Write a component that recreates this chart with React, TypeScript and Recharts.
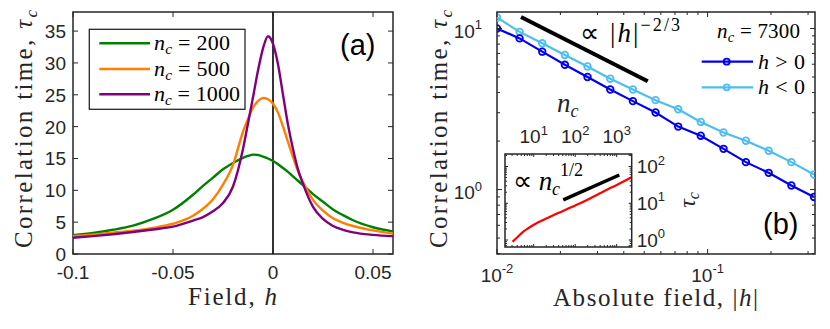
import React from 'react';
import { LineChart, Line, XAxis, YAxis, ReferenceLine, ReferenceArea } from 'recharts';

// ---------- Panel (a) data ----------
const FIELD_H = [-0.1, -0.09, -0.08, -0.07, -0.06, -0.05, -0.04, -0.035, -0.03, -0.025, -0.02, -0.015, -0.0125, -0.01, -0.0075, -0.005, -0.0025, 0, 0.0025, 0.005, 0.0075, 0.01, 0.0125, 0.015, 0.02, 0.025, 0.03, 0.035, 0.04, 0.05, 0.06];
const TAU_NC200 = [2.95, 3.3, 3.8, 4.45, 5.5, 6.95, 9.3, 10.7, 12.0, 13.3, 14.3, 15.1, 15.4, 15.6, 15.55, 15.3, 15.0, 14.6, 14.1, 13.5, 12.9, 12.2, 11.5, 10.8, 9.4, 8.2, 7.0, 6.1, 5.3, 4.2, 3.55];
const TAU_NC500 = [2.8, 3.05, 3.35, 3.65, 4.1, 4.75, 6.0, 7.1, 8.6, 10.9, 14.0, 19.2, 21.2, 23.0, 24.0, 24.5, 24.3, 23.6, 22.2, 20.0, 17.6, 15.2, 13.0, 11.3, 8.5, 6.8, 5.6, 4.9, 4.4, 3.7, 3.2];
const TAU_NC1000 = [2.55, 2.8, 3.1, 3.45, 3.85, 4.3, 5.25, 5.8, 6.7, 8.0, 10.6, 16.5, 20.5, 24.6, 28.8, 32.3, 34.2, 33.0, 29.8, 25.0, 20.3, 16.5, 13.3, 11.0, 7.4, 5.5, 4.4, 3.8, 3.4, 3.0, 2.8];
const NC_LABELS = ['200', '500', '1000'];
const A_COLORS = ['#008000', '#ff8000', '#800080'];
const A_XTICKS = [-0.1, -0.05, 0, 0.05];
const A_YTICKS = [0, 5, 10, 15, 20, 25, 30, 35];

// ---------- Panel (b) data ----------
const ABS_FIELD = [0.01, 0.0128, 0.0164, 0.021, 0.0269, 0.0345, 0.0442, 0.0566, 0.0725, 0.0928, 0.119, 0.152, 0.195, 0.25, 0.32];
const TAU_POS = [10.0, 8.68, 7.18, 5.95, 5.0, 4.18, 3.54, 3.01, 2.46, 2.16, 1.79, 1.48, 1.27, 1.06, 0.9];
const TAU_NEG = [11.7, 9.53, 8.09, 6.85, 5.81, 4.88, 4.18, 3.59, 3.15, 2.63, 2.26, 2.01, 1.74, 1.48, 1.24];
const B_XTICKS = [0.01, 0.02, 0.03, 0.04, 0.05, 0.06, 0.07, 0.08, 0.09, 0.1, 0.2, 0.3];
const B_YTICKS = [0.4, 0.5, 0.6, 0.7, 0.8, 0.9, 1, 2, 3, 4, 5, 6, 7, 8, 9, 10];
const GUIDE_B = [{ x: 0.013, y: 11.8 }, { x: 0.052, y: 4.7 }];

// ---------- Inset data ----------
const INSET_NC = [3.1, 4.2, 5.6, 7.5, 9.8, 15, 24.7, 40, 62.4, 100, 157, 250, 396, 630, 1000, 1500, 2300];
const INSET_TAU = [0.9, 1.25, 1.68, 2.12, 2.56, 3.3, 4.31, 5.51, 6.84, 8.74, 11.0, 14.3, 18.7, 24.4, 31.4, 39.7, 50.8];
const INSET_XTICKS = [3, 4, 5, 6, 7, 8, 9, 10, 20, 30, 40, 50, 60, 70, 80, 90, 100, 200, 300, 400, 500, 600, 700, 800, 900, 1000, 2000];
const INSET_YTICKS = [0.7, 0.8, 0.9, 1, 2, 3, 4, 5, 6, 7, 8, 9, 10, 20, 30, 40, 50, 60, 70, 80, 90, 100, 200];
const GUIDE_INSET = [{ x: 51.6, y: 12.3 }, { x: 1156, y: 58.7 }];

const AX = '#262626';
const SANS = '"Liberation Sans", Arial, Helvetica, sans-serif';
const SERIF = '"Liberation Serif", "Times New Roman", serif';
const DARK_BLUE = '#0000ee';
const LIGHT_BLUE = '#4dbeee';

const isPow10 = (v: number) => Math.abs(Math.log10(v) - Math.round(Math.log10(v))) < 1e-6;

type TickCfg = {
  orient: 'bottom' | 'top' | 'left' | 'right';
  edgeA: number;
  edgeB: number;
  isMajor: (v: number) => boolean;
  render: (v: number, pos: number) => React.ReactNode;
  majorLen: number;
  minorLen: number;
};

const makeTick = (cfg: TickCfg) => (props: any) => {
  const v = props.payload.value;
  const major = cfg.isMajor(v);
  const len = major ? cfg.majorLen : cfg.minorLen;
  const vertical = cfg.orient === 'bottom' || cfg.orient === 'top';
  const pos = vertical ? props.x : props.y;
  const dirA = cfg.orient === 'bottom' || cfg.orient === 'right' ? -1 : 1;
  const dirB = -dirA;
  const sty = { stroke: AX, strokeWidth: 1 };
  return (
    <g>
      {vertical ? (
        <>
          <line x1={pos} x2={pos} y1={cfg.edgeA} y2={cfg.edgeA + dirA * len} {...sty} />
          <line x1={pos} x2={pos} y1={cfg.edgeB} y2={cfg.edgeB + dirB * len} {...sty} />
        </>
      ) : (
        <>
          <line y1={pos} y2={pos} x1={cfg.edgeA} x2={cfg.edgeA + dirA * len} {...sty} />
          <line y1={pos} y2={pos} x1={cfg.edgeB} x2={cfg.edgeB + dirB * len} {...sty} />
        </>
      )}
      {major ? cfg.render(v, pos) : null}
    </g>
  );
};

const pow10Label = (v: number, x: number, y: number, anchor: 'start' | 'middle' | 'end', supDy: number) => (
  <text x={x} y={y} textAnchor={anchor} fontFamily={SANS} fontSize={19} fill={AX}>
    <tspan>10</tspan>
    <tspan fontSize={13} dy={supDy}>{String(Math.round(Math.log10(v)))}</tspan>
  </text>
);

// ---------- Panel (a) ticks ----------
const xTickA = makeTick({
  orient: 'bottom', edgeA: 254, edgeB: 12, isMajor: () => true, majorLen: 5, minorLen: 3,
  render: (v, x) => (
    <text x={x} y={279} textAnchor="middle" fontFamily={SANS} fontSize={19} fill={AX}>{String(v)}</text>
  ),
});
const yTickA = makeTick({
  orient: 'left', edgeA: 73, edgeB: 393, isMajor: () => true, majorLen: 5, minorLen: 3,
  render: (v, y) => (
    <text x={66} y={y + 7} textAnchor="end" fontFamily={SANS} fontSize={19} fill={AX}>{String(v)}</text>
  ),
});

// ---------- Panel (b) ticks ----------
const xTickB = makeTick({
  orient: 'bottom', edgeA: 254, edgeB: 12, isMajor: isPow10, majorLen: 5, minorLen: 3,
  render: (v, x) => pow10Label(v, x, 281.5, 'middle', -8.5),
});
const yTickB = makeTick({
  orient: 'left', edgeA: 82, edgeB: 400, isMajor: isPow10, majorLen: 5, minorLen: 3,
  render: (v, y) => pow10Label(v, 67, y + 9.5, 'end', -8.5),
});

// ---------- Inset ticks (inset chart coords: page left 500, top 80) ----------
const xTickI = makeTick({
  orient: 'top', edgeA: 74, edgeB: 167, isMajor: isPow10, majorLen: 3, minorLen: 2,
  render: (v, x) => pow10Label(v, x, 63, 'middle', -8.5),
});
const yTickI = makeTick({
  orient: 'right', edgeA: 131.7, edgeB: 5, isMajor: isPow10, majorLen: 3, minorLen: 2,
  render: (v, y) => pow10Label(v, 136.7, y + 6.5, 'start', -8.5),
});

const dataA = FIELD_H.map((h, i) => ({ h, n200: TAU_NC200[i], n500: TAU_NC500[i], n1000: TAU_NC1000[i] }));
const dataB = ABS_FIELD.map((h, i) => ({ h, pos: TAU_POS[i], neg: TAU_NEG[i] }));
const dataI = INSET_NC.map((n, i) => ({ n, tau: INSET_TAU[i] }));
const A_KEYS = ['n200', 'n500', 'n1000'];

const NcText = ({ x, y, value, len, size = 22 }: { x: number; y: number; value: string; len: number; size?: number }) => (
  <text x={x} y={y} fontFamily={SERIF} fontSize={size} fill="#000" textLength={len} lengthAdjust="spacing" style={{ whiteSpace: 'pre' }}>
    <tspan fontStyle="italic">n</tspan>
    <tspan fontStyle="italic" fontSize={size * 0.7} dy={4}>c</tspan>
    <tspan dy={-4}>{' = ' + value}</tspan>
  </text>
);

const PanelA = () => (
  <LineChart width={415} height={329} data={dataA} margin={{ top: 12, right: 22, bottom: 0, left: 0 }}>
    <XAxis dataKey="h" type="number" domain={[-0.1, 0.06]} ticks={A_XTICKS} interval={0} height={75}
      axisLine={false} tickLine={false} tick={xTickA} allowDataOverflow />
    <YAxis type="number" domain={[0, 38]} ticks={A_YTICKS} interval={0} width={73}
      axisLine={false} tickLine={false} tick={yTickA} allowDataOverflow />
    <ReferenceArea x1={-0.1} x2={0.06} y1={0} y2={38} fill="none" stroke={AX} strokeWidth={1.5} />
    <ReferenceLine x={0} stroke="#000" strokeWidth={1.6} />
    {A_KEYS.map((k, i) => (
      <Line key={k} dataKey={k} type="monotone" stroke={A_COLORS[i]} strokeWidth={2.4} dot={false} isAnimationActive={false} />
    ))}
    {/* legend */}
    <rect x={89.3} y={29.3} width={155.7} height={80} fill="#fff" stroke={AX} strokeWidth={1.3} />
    {NC_LABELS.map((lab, i) => {
      const y = [43.3, 69, 94.3][i];
      return (
        <g key={lab}>
          <line x1={99.3} x2={150} y1={y} y2={y} stroke={A_COLORS[i]} strokeWidth={2.4} />
          <NcText x={154} y={y + 7} value={lab} len={lab.length === 4 ? 86 : 76} />
        </g>
      );
    })}
    <text x={340} y={55} fontFamily={SANS} fontSize={29} fill="#000">(a)</text>
    <text x={232.5} y={305} textAnchor="middle" fontFamily={SERIF} fontSize={25} fill={AX} textLength={89} lengthAdjust="spacing" style={{ whiteSpace: 'pre' }}>
      <tspan>Field, </tspan><tspan fontStyle="italic">h</tspan>
    </text>
    <text transform="rotate(-90)" x={-129} y={32} textAnchor="middle" fontFamily={SERIF} fontSize={25} fill={AX} textLength={238} lengthAdjust="spacing" style={{ whiteSpace: 'pre' }}>
      <tspan>Correlation time, </tspan><tspan fontStyle="italic">τ</tspan><tspan fontStyle="italic" fontSize={17} dy={5}>c</tspan>
    </text>
  </LineChart>
);

const PanelB = () => (
  <LineChart width={415} height={329} data={dataB} margin={{ top: 12, right: 15, bottom: 0, left: 0 }}>
    <XAxis dataKey="h" type="number" scale="log" domain={[0.01, 0.3236]} ticks={B_XTICKS} interval={0} height={75}
      axisLine={false} tickLine={false} tick={xTickB} allowDataOverflow />
    <YAxis type="number" scale="log" domain={[0.398, 12.66]} ticks={B_YTICKS} interval={0} width={82}
      axisLine={false} tickLine={false} tick={yTickB} allowDataOverflow />
    <ReferenceArea x1={0.01} x2={0.3236} y1={0.398} y2={12.66} fill="none" stroke={AX} strokeWidth={1.5} />
    <ReferenceLine segment={GUIDE_B} stroke="#000" strokeWidth={4} />
    <Line dataKey="neg" stroke={LIGHT_BLUE} strokeWidth={2.2} isAnimationActive={false}
      dot={{ r: 3.3, stroke: LIGHT_BLUE, strokeWidth: 1.8, fill: 'none' }} />
    <Line dataKey="pos" stroke={DARK_BLUE} strokeWidth={2.2} isAnimationActive={false}
      dot={{ r: 3.3, stroke: DARK_BLUE, strokeWidth: 1.8, fill: 'none' }} />
    {/* exponent annotation */}
    <text x={165} y={42} fontFamily={SERIF} fontSize={27} fill="#000" textLength={100} lengthAdjust="spacing" style={{ whiteSpace: 'pre' }}>
      <tspan>∝ |</tspan><tspan fontStyle="italic">h</tspan><tspan>|</tspan><tspan fontSize={18} dy={-11}>−2/3</tspan>
    </text>
    <NcText x={302} y={38} value="7300" len={83} size={21} />
    {/* legend */}
    {[{ c: DARK_BLUE, y: 61.7, s: '>' }, { c: LIGHT_BLUE, y: 87.3, s: '<' }].map((e) => (
      <g key={e.s}>
        <line x1={286.7} x2={338} y1={e.y} y2={e.y} stroke={e.c} strokeWidth={2.2} />
        <circle cx={311.7} cy={e.y} r={3} fill="none" stroke={e.c} strokeWidth={1.8} />
        <text x={343} y={e.y + 7} fontFamily={SERIF} fontSize={22} fill="#000" textLength={47} lengthAdjust="spacing" style={{ whiteSpace: 'pre' }}>
          <tspan fontStyle="italic">h</tspan><tspan>{' ' + e.s + ' 0'}</tspan>
        </text>
      </g>
    ))}
    <text x={348} y={234} fontFamily={SANS} fontSize={29} fill="#000">(b)</text>
    <text x={240.5} y={306} textAnchor="middle" fontFamily={SERIF} fontSize={25} fill={AX} textLength={205} lengthAdjust="spacing" style={{ whiteSpace: 'pre' }}>
      <tspan>Absolute field, |</tspan><tspan fontStyle="italic">h</tspan><tspan>|</tspan>
    </text>
    <text transform="rotate(-90)" x={-129} y={32} textAnchor="middle" fontFamily={SERIF} fontSize={25} fill={AX} textLength={238} lengthAdjust="spacing" style={{ whiteSpace: 'pre' }}>
      <tspan>Correlation time, </tspan><tspan fontStyle="italic">τ</tspan><tspan fontStyle="italic" fontSize={17} dy={5}>c</tspan>
    </text>
  </LineChart>
);

const Inset = () => (
  <LineChart width={215} height={175} data={dataI} margin={{ top: 0, right: 0, bottom: 8, left: 5 }}>
    <XAxis dataKey="n" type="number" scale="log" orientation="top" domain={[2.03, 2300]} ticks={INSET_XTICKS} interval={0} height={74}
      axisLine={false} tickLine={false} tick={xTickI} allowDataOverflow />
    <YAxis type="number" scale="log" orientation="right" domain={[0.645, 219]} ticks={INSET_YTICKS} interval={0} width={83.3}
      axisLine={false} tickLine={false} tick={yTickI} allowDataOverflow />
    <ReferenceArea x1={2.03} x2={2300} y1={0.645} y2={219} fill="none" stroke={AX} strokeWidth={1.5} />
    <ReferenceLine segment={GUIDE_INSET} stroke="#000" strokeWidth={3.5} />
    <Line dataKey="tau" type="monotone" stroke="#ff0000" strokeWidth={2.2} dot={false} isAnimationActive={false} />
    <text x={13} y={110} fontFamily={SERIF} fontSize={27} fill="#000" textLength={70} lengthAdjust="spacing" style={{ whiteSpace: 'pre' }}>
      <tspan>∝ </tspan><tspan fontStyle="italic">n</tspan><tspan fontStyle="italic" fontSize={18} dy={5}>c</tspan><tspan fontSize={18} dy={-19}>1/2</tspan>
    </text>
    <text x={57} y={32} fontFamily={SERIF} fontSize={27} fill={AX}>
      <tspan fontStyle="italic">n</tspan><tspan fontStyle="italic" fontSize={18} dy={5}>c</tspan>
    </text>
    <text transform="rotate(-90)" x={-120} y={195} textAnchor="middle" fontFamily={SERIF} fontSize={24} fill={AX}>
      <tspan fontStyle="italic">τ</tspan><tspan fontStyle="italic" fontSize={16} dy={4}>c</tspan>
    </text>
  </LineChart>
);

export default function App() {
  return (
    <div style={{ position: 'absolute', left: 0, top: 0, width: 830, height: 329, background: '#fff', overflow: 'hidden' }}>
      <div style={{ position: 'absolute', left: 0, top: 0 }}><PanelA /></div>
      <div style={{ position: 'absolute', left: 415, top: 0 }}><PanelB /></div>
      <div style={{ position: 'absolute', left: 500, top: 80 }}><Inset /></div>
    </div>
  );
}
